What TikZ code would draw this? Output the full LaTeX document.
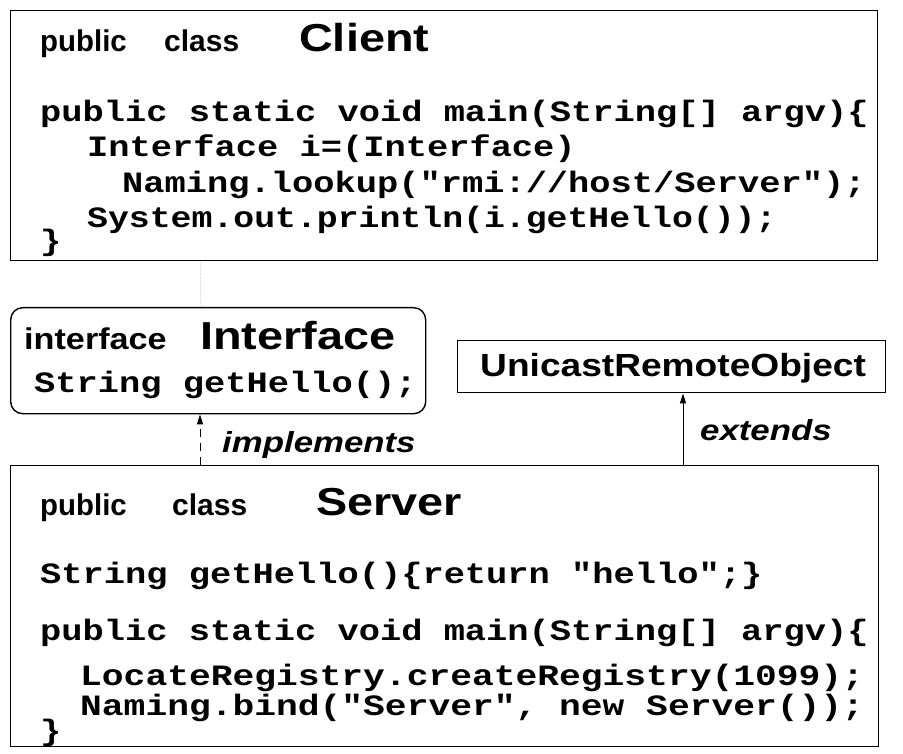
\documentclass[tikz,border=0pt]{standalone}
\usepackage{fontspec}
\setmainfont{Liberation Sans}
\newfontfamily\codefont{Liberation Mono}
\usetikzlibrary{arrows.meta,positioning}
\newcommand{\stretchx}[2][1.2]{\scalebox{#1}[1]{#2}}

\begin{document}
\begin{tikzpicture}[x=1pt,y=-1pt,>={Triangle[length=10pt,width=6pt]},
  every node/.style={inner sep=0pt,anchor=base west},
  box/.style={draw,line width=1.4pt,anchor=north west},
  kw/.style={font=\fontsize{30}{34}\selectfont\bfseries},
  cls/.style={font=\fontsize{39}{45}\selectfont\bfseries},
  code/.style={font=\codefont\fontsize{29.5}{34}\selectfont\bfseries},
  rel/.style={font=\fontsize{29}{34}\selectfont\bfseries\itshape}]
  \useasboundingbox (0,0) rectangle (903,754);

  % client
  \node[box,minimum width=867pt,minimum height=250pt] (clientBox) at (10,10) {};
  \node[kw] (clientPub) at (40,52) {\stretchx[0.98]{public}};
  \node[kw] (clientClass) at (164,52) {\stretchx[1.0]{class}};
  \node[cls] (clientName) at (299,52) {\stretchx{Client}};
  \node[code] (clientMain) at (40,122) {\stretchx{public static void main(String[] argv)\{}};
  \node[code] (clientLookA) at (87,157) {\stretchx{Interface i=(Interface)}};
  \node[code] (clientLookB) at (122,193) {\stretchx{Naming.lookup("rmi://host/Server");}};
  \node[code] (clientPrint) at (87,228) {\stretchx[1.18]{System.out.println(i.getHello());}};
  \node[code] (clientEnd) at (40,251) {\stretchx{\}}};

  % interface and superclass
  \node[box,rounded corners=12pt,minimum width=415pt,minimum height=106pt] (ifaceBox) at (10,307) {};
  \node[kw] (ifaceKw) at (24,349) {\stretchx[1.14]{interface}};
  \node[cls] (ifaceName) at (200,349) {\stretchx{Interface}};
  \node[code] (ifaceHello) at (34,392) {\stretchx{String getHello();}};
  \node[box,minimum width=428pt,minimum height=52pt] (uroBox) at (457,340) {};
  \node[font=\fontsize{32}{36}\selectfont\bfseries] (uroName) at (480,377) {\stretchx[1.16]{UnicastRemoteObject}};

  % server
  \node[box,minimum width=868pt,minimum height=281pt] (serverBox) at (10,465) {};
  \node[kw] (serverPub) at (40,515) {\stretchx[0.98]{public}};
  \node[kw] (serverClass) at (172,515) {\stretchx[1.0]{class}};
  \node[cls] (serverName) at (316,515) {\stretchx{Server}};
  \node[code] (serverHello) at (40,583) {\stretchx{String getHello()\{return "hello";\}}};
  \node[code] (serverMain) at (40,640) {\stretchx{public static void main(String[] argv)\{}};
  \node[code] (serverReg) at (80,685) {\stretchx[1.23]{LocateRegistry.createRegistry(1099);}};
  \node[code] (serverBind) at (80,715) {\stretchx[1.23]{Naming.bind("Server", new Server());}};
  \node[code] (serverEnd) at (40,740) {\stretchx{\}}};

  % relations
  \draw[densely dotted,black!12] ([xshift=190pt]clientBox.south west) -- ([xshift=190pt]ifaceBox.north west);
  \draw[->,line width=1pt,dash pattern=on 8pt off 6pt] ([xshift=190pt]serverBox.north west) -- ([xshift=190pt]ifaceBox.south west);
  \draw[->,line width=1pt] ([xshift=673pt]serverBox.north west) -- ([xshift=226pt]uroBox.south west);
  \node[rel] (implLabel) at (222,452) {\stretchx{implements}};
  \node[rel] (extLabel) at (700,440) {\stretchx{extends}};
\end{tikzpicture}
\end{document}
